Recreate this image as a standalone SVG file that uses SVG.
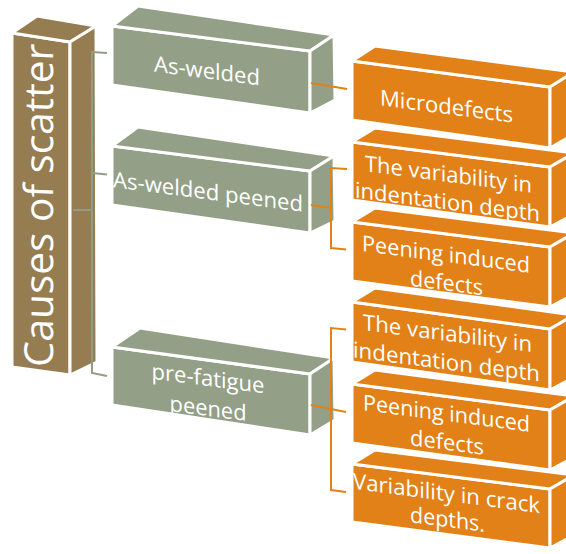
<svg xmlns="http://www.w3.org/2000/svg" width="566" height="554" viewBox="0 0 566 554">
<style>
  .f { stroke: #ffffff; stroke-width: 3; stroke-linejoin: round; }
  .b { fill: #957C51; }
  .g { fill: #93A087; }
  .o { fill: #E28117; }
  .t { fill: #ffffff; font-family: "Open Sans", "Noto Sans", sans-serif; font-size: 22px; text-anchor: middle; }
  .tb { fill: #ffffff; font-family: "Open Sans", "Noto Sans", sans-serif; font-size: 40px; text-anchor: middle; }
  .cg { fill: none; stroke: #8F9D85; stroke-width: 2; }
  .co { fill: none; stroke: #E28117; stroke-width: 2; }
</style>
<rect width="566" height="554" fill="#ffffff"/>

<g id="node-causes">
  <polygon class="f b" points="12,33 70,42 70,375 12,367"/>
  <polygon class="f b" points="12,33 37,16 96,26 70,42"/>
  <polygon class="f b" points="70,42 96,26 97,362 70,375"/>
  <text class="tb" transform="translate(53,206) skewY(2.5) rotate(-90)" textLength="323" lengthAdjust="spacingAndGlyphs">Causes of scatter</text>
</g>

<g id="node-as-welded">
  <polygon class="f g" points="112,26 310,51 310,113 112,85"/>
  <polygon class="f g" points="112,26 138,6 334,35 310,51"/>
  <polygon class="f g" points="310,51 334,35 335,100 310,113"/>
  <text class="t" transform="translate(207,78.5) skewY(7.4)" textLength="106" lengthAdjust="spacingAndGlyphs">As-welded</text>
</g>

<g id="node-as-welded-peened">
  <polygon class="f g" points="112,146 310,171 310,233 112,205"/>
  <polygon class="f g" points="112,146 138,127 334,156 310,171"/>
  <polygon class="f g" points="310,171 334,156 335,221 310,233"/>
  <text class="t" transform="translate(208,199.5) skewY(7.4)" textLength="190" lengthAdjust="spacingAndGlyphs">As-welded peened</text>
</g>

<g id="node-pre-fatigue-peened">
  <polygon class="f g" points="112,347 310,374 310,435 112,405"/>
  <polygon class="f g" points="112,347 140,328 334,358 310,374"/>
  <polygon class="f g" points="310,374 334,358 335,420 310,435"/>
  <text class="t" transform="translate(208,386) skewY(7.4)" textLength="113" lengthAdjust="spacingAndGlyphs">pre-fatigue</text>
  <text class="t" transform="translate(208,416) skewY(7.4)" textLength="77" lengthAdjust="spacingAndGlyphs">peened</text>
</g>

<g id="node-microdefects">
  <polygon class="f o" points="352,61 550,87 550,148 352,120"/>
  <polygon class="f o" points="352,61 375,46 574,72 550,87"/>
  <polygon class="f o" points="550,87 574,72 574,134 550,148"/>
  <text class="t" transform="translate(446.5,114) skewY(7.4)" textLength="133" lengthAdjust="spacingAndGlyphs">Microdefects</text>
</g>

<g id="node-variability-1">
  <polygon class="f o" points="352,142 550,167 550,227 352,200"/>
  <polygon class="f o" points="352,142 375,128 574,153 550,167"/>
  <polygon class="f o" points="550,167 574,153 574,214 550,227"/>
  <text class="t" transform="translate(448.5,182) skewY(7.4)" textLength="167" lengthAdjust="spacingAndGlyphs">The variability in</text>
  <text class="t" transform="translate(447.5,209.5) skewY(7.4)" textLength="185" lengthAdjust="spacingAndGlyphs">indentation depth</text>
</g>

<g id="node-peening-1">
  <polygon class="f o" points="352,222 550,247 550,307 352,281"/>
  <polygon class="f o" points="352,222 375,208 574,233 550,247"/>
  <polygon class="f o" points="550,247 574,233 574,294 550,307"/>
  <text class="t" transform="translate(446,262) skewY(7.4)" textLength="168" lengthAdjust="spacingAndGlyphs">Peening induced</text>
  <text class="t" transform="translate(446.5,290.5) skewY(7.4)" textLength="73" lengthAdjust="spacingAndGlyphs">defects</text>
</g>

<g id="node-variability-2">
  <polygon class="f o" points="352,302 550,329 550,390 352,362"/>
  <polygon class="f o" points="352,302 375,288 574,315 550,329"/>
  <polygon class="f o" points="550,329 574,315 574,377 550,390"/>
  <text class="t" transform="translate(447.5,341) skewY(7.4)" textLength="169" lengthAdjust="spacingAndGlyphs">The variability in</text>
  <text class="t" transform="translate(446.5,369.5) skewY(7.4)" textLength="187" lengthAdjust="spacingAndGlyphs">indentation depth</text>
</g>

<g id="node-peening-2">
  <polygon class="f o" points="352,384 550,410 550,470 352,443"/>
  <polygon class="f o" points="352,384 375,370 574,396 550,410"/>
  <polygon class="f o" points="550,410 574,396 574,457 550,470"/>
  <text class="t" transform="translate(446.5,421) skewY(7.4)" textLength="167" lengthAdjust="spacingAndGlyphs">Peening induced</text>
  <text class="t" transform="translate(447,450) skewY(7.4)" textLength="74" lengthAdjust="spacingAndGlyphs">defects</text>
</g>

<g id="node-crack-depths">
  <polygon class="f o" points="352,464 550,489 550,548 352,522"/>
  <polygon class="f o" points="352,464 375,450 574,475 550,489"/>
  <polygon class="f o" points="550,489 574,475 574,535 550,548"/>
  <text class="t" transform="translate(446.5,501) skewY(7.4)" textLength="187" lengthAdjust="spacingAndGlyphs">Variability in crack</text>
  <text class="t" transform="translate(447.5,527) skewY(7.4)" textLength="75" lengthAdjust="spacingAndGlyphs">depths.</text>
</g>

<g id="connectors">
  <path class="cg" d="M73,210 L92,210"/>
  <path class="cg" d="M107,53 L92,52 L92,373 L107,376"/>
  <path class="cg" d="M92,173 L107,174.5"/>
  <path class="co" d="M311,83 L347,89"/>
  <path class="co" d="M311,205 L331,208"/>
  <path class="co" d="M347,169 L331,168 L331,248 L346,249.5"/>
  <path class="co" d="M311,405 L346,412"/>
  <path class="co" d="M346,329.5 L331,328 L331,490 L346,492"/>
</g>
</svg>
